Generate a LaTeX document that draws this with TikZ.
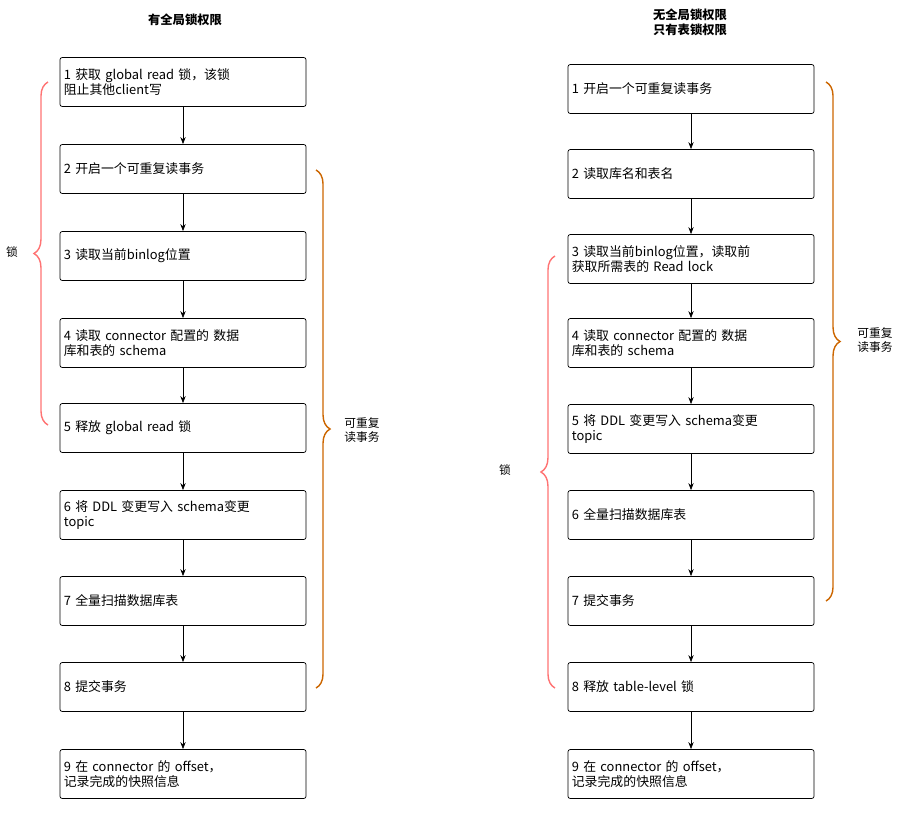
\documentclass[tikz,border=0pt]{standalone}
\usepackage{fontspec}
\setmainfont{Noto Sans CJK SC}
\usetikzlibrary{decorations.pathreplacing,arrows.meta}

\begin{document}
\begin{tikzpicture}[x=0.03cm,y=-0.03cm,line width=0.6pt,
				stepbox/.style = {rectangle, draw, rounded corners=2pt, fill=white,
				minimum width=7.29cm, minimum height=1.47cm, text width=7.15cm,
				align=left, font=\fontsize{11}{13}\selectfont},
				title/.style = {align=center, font=\fontsize{10.5}{13}\selectfont\bfseries},
				lockbrace/.style = {draw=red!55!white, line width=1.2pt,
				decorate, decoration={brace, amplitude=12pt}},
				txbrace/.style = {draw=orange!80!black, line width=1.2pt,
				decorate, decoration={brace, amplitude=12pt}},
				flow/.style = {-{Stealth[length=6pt]}},
				]
	\useasboundingbox (0,0) rectangle (900,813);

	\node [title] (tl) at (185,20) {有全局锁权限};
	\node [title] (tr) at (690,22) {无全局锁权限\\只有表锁权限};

	% left column
	\node [stepbox] (L1) at (183,82) {1 获取 global read 锁，该锁\\阻止其他client写};
	\node [stepbox] (L2) at (183,169) {2 开启一个可重复读事务};
	\node [stepbox] (L3) at (183,256) {3 读取当前binlog位置};
	\node [stepbox] (L4) at (183,343) {4 读取 connector 配置的 数据\\库和表的 schema};
	\node [stepbox] (L5) at (183,428) {5 释放 global read 锁};
	\node [stepbox] (L6) at (183,515) {6 将 DDL 变更写入 schema变更\\topic};
	\node [stepbox] (L7) at (183,601) {7 全量扫描数据库表};
	\node [stepbox] (L8) at (183,687) {8 提交事务};
	\node [stepbox] (L9) at (183,774) {9 在 connector 的 offset，\\记录完成的快照信息};

	% right column
	\node [stepbox] (R1) at (691,89) {1 开启一个可重复读事务};
	\node [stepbox] (R2) at (691,174) {2 读取库名和表名};
	\node [stepbox] (R3) at (691,259) {3 读取当前binlog位置，读取前\\获取所需表的 Read lock};
	\node [stepbox] (R4) at (691,343) {4 读取 connector 配置的 数据\\库和表的 schema};
	\node [stepbox] (R5) at (691,429) {5 将 DDL 变更写入 schema变更\\topic};
	\node [stepbox] (R6) at (691,515) {6 全量扫描数据库表};
	\node [stepbox] (R7) at (691,601) {7 提交事务};
	\node [stepbox] (R8) at (691,687) {8 释放 table-level 锁};
	\node [stepbox] (R9) at (691,774) {9 在 connector 的 offset，\\记录完成的快照信息};

	\foreach \a/\b in {1/2,2/3,3/4,4/5,5/6,6/7,7/8,8/9}{
		\draw [flow] (L\a) -- (L\b);
		\draw [flow] (R\a) -- (R\b);
	}

	% braces
	\draw [lockbrace] (48,425) -- (48,82);
	\node (ll) at (12,252) {锁};
	\draw [txbrace] (316,170) -- (316,688);
	\node [align=left] (lt) at (362,430) {可重复\\读事务};
	\draw [txbrace] (826,82) -- (826,601);
	\node [align=left] (rt) at (875,340) {可重复\\读事务};
	\draw [lockbrace] (555,688) -- (555,256);
	\node (rl) at (505,470) {锁};
\end{tikzpicture}
\end{document}
